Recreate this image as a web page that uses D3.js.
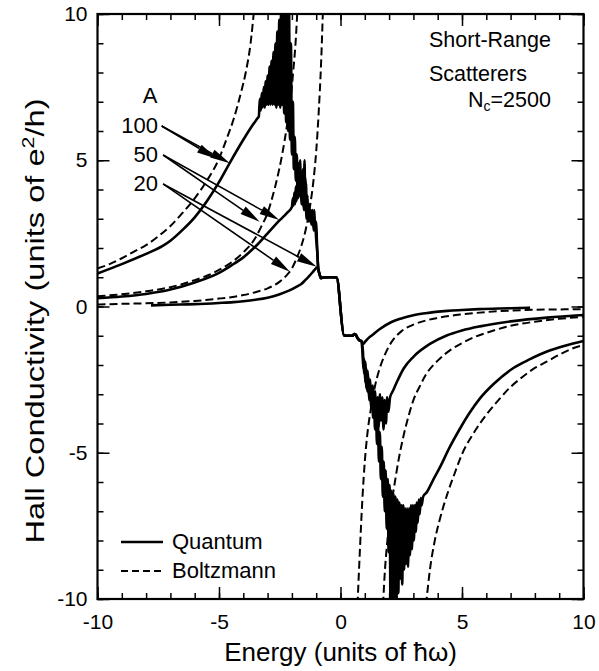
<!DOCTYPE html>
<html>
<head>
<meta charset="utf-8">
<script src="https://cdn.jsdelivr.net/npm/d3@7"></script>
<style>
  body { margin: 0; background: #fff; }
  text { font-family: "Liberation Sans", Arial, Helvetica, sans-serif; fill: #000; }
</style>
</head>
<body>
<div id="chart"></div>
<script>
"use strict";
// Boltzmann curves (dashed), energy vs Hall conductivity, one array per branch
const b20Left = [[-10,0.07],[-9,0.09],[-8,0.11],[-7,0.14],[-6,0.19],[-5,0.27],[-4.5,0.32],[-4,0.39],[-3.5,0.49],[-3,0.62],[-2.5,0.85],[-2.2,1.08],[-2,1.3],[-1.8,1.66],[-1.6,2.1],[-1.4,2.75],[-1.25,3.45],[-1.1,4.4],[-1,5.3],[-0.9,6.6],[-0.8,8.3],[-0.72,10.2]];
const b20Right = [[0.7,-10.2],[0.8,-8.3],[0.9,-6.6],[1,-5.3],[1.1,-4.4],[1.25,-3.5],[1.4,-2.8],[1.6,-2.15],[1.8,-1.7],[2,-1.35],[2.2,-1.1],[2.5,-0.85],[3,-0.62],[3.5,-0.48],[4,-0.39],[4.5,-0.32],[5,-0.27],[6,-0.19],[7,-0.14],[8,-0.11],[9,-0.1],[10,-0.09]];
const b50Left = [[-10,0.35],[-9,0.42],[-8,0.52],[-7,0.66],[-6,0.9],[-5.5,1.05],[-5,1.25],[-4.5,1.5],[-4,1.85],[-3.5,2.35],[-3.25,2.75],[-3,3.2],[-2.8,3.75],[-2.6,4.4],[-2.4,5.2],[-2.2,6.2],[-2.05,7.1],[-1.95,8],[-1.85,9],[-1.77,10.2]];
const b50Right = [[1.75,-10.2],[1.83,-9],[1.93,-8],[2.03,-7.1],[2.2,-6.2],[2.4,-5.2],[2.6,-4.4],[2.8,-3.75],[3,-3.2],[3.25,-2.75],[3.5,-2.35],[4,-1.85],[4.5,-1.5],[5,-1.25],[5.5,-1.05],[6,-0.9],[7,-0.66],[8,-0.52],[9,-0.42],[10,-0.35]];
const b100Left = [[-10,1.3],[-9.5,1.45],[-9,1.65],[-8.5,1.88],[-8,2.1],[-7.5,2.4],[-7,2.75],[-6.5,3.2],[-6,3.7],[-5.5,4.3],[-5,5.05],[-4.7,5.7],[-4.4,6.4],[-4.1,7.3],[-3.9,8],[-3.7,9],[-3.55,10.2]];
const b100Right = [[3.52,-10.2],[3.68,-9],[3.88,-8],[4.08,-7.3],[4.4,-6.4],[4.7,-5.7],[5,-5.05],[5.5,-4.3],[6,-3.7],[6.5,-3.2],[7,-2.75],[7.5,-2.4],[8,-2.1],[8.5,-1.88],[9,-1.65],[9.5,-1.45],[10,-1.32]];

// Quantum curves (solid)
const q20 = [[-7.8,0.04],[-7,0.06],[-6,0.08],[-5,0.12],[-4.4,0.15],[-4,0.18],[-3.5,0.23],[-3,0.3],[-2.5,0.42],[-2.1,0.55],[-1.8,0.68],[-1.6,0.78],[-1.45,0.9],[-1.3,1.03],[-1.15,1.17],[-1.05,1.27],[-0.97,1.33],[-0.92,1.28],
  [-0.86,1.1],[-0.8,0.97],[-0.72,0.99],[-0.5,1],[-0.3,1],[-0.16,0.99],[0.14,-0.98],[0.3,-1],[0.5,-1],[0.56,-0.94],[0.62,-0.96],[0.7,-1.08],[0.78,-1.16],[0.86,-1.18],
  [0.94,-1.28],[1,-1.22],[1.1,-1.12],[1.3,-0.98],[1.62,-0.77],[2.1,-0.53],[2.5,-0.41],[3,-0.3],[3.5,-0.23],[4.4,-0.15],[5,-0.12],[5.7,-0.09],[7,-0.06],[7.8,-0.04]];
const q50 = [[-10,0.28],[-9,0.34],[-8,0.43],[-7,0.58],[-6,0.82],[-5,1.15],[-4.5,1.4],[-4,1.68],[-3.5,2.05],[-3,2.5],[-2.5,2.95],[-2.2,3.2],[-2,3.4],
  [-1.96,3.7],[-1.93,3.45],[-1.9,3.9],[-1.87,3.5],[-1.84,4.1],[-1.81,3.6],[-1.78,4.3],[-1.75,3.7],[-1.72,4.6],[-1.69,3.8],[-1.66,5],[-1.63,3.7],[-1.6,4.4],[-1.57,3.5],[-1.54,4.7],[-1.51,3.4],[-1.48,5],[-1.45,3.3],[-1.42,4.2],[-1.39,3.2],[-1.36,3.8],[-1.33,3],[-1.3,3.5],[-1.27,3.2],[-1.24,3.3],[-1.2,3],[-1.16,3.3],[-1.12,2.8],[-1.08,3.3],[-1.04,2.6],[-1,2.9],[-0.97,2.2],[-0.94,1.6],[-0.91,1.25],
  [-0.86,1.1],[-0.8,0.97],[-0.72,0.99],[-0.5,1],[-0.3,1],[-0.16,0.99],[0.14,-0.98],[0.3,-1],[0.5,-1],[0.56,-0.94],[0.62,-0.96],[0.7,-1.08],[0.78,-1.16],[0.86,-1.18],
  [0.92,-1.5],[0.97,-2.3],[1.02,-1.9],[1.07,-2.8],[1.12,-2.2],[1.17,-3],[1.22,-2.5],[1.27,-3.3],[1.32,-2.7],[1.37,-3.6],[1.42,-2.9],[1.47,-3.9],[1.52,-3.1],[1.57,-4.1],[1.62,-3],[1.67,-3.9],[1.72,-3.1],[1.77,-4.2],[1.82,-3.2],[1.87,-4],[1.92,-3.1],[1.97,-3.6],[2.04,-3.1],
  [2.15,-2.9],[2.31,-2.6],[2.6,-2.12],[3,-1.72],[3.68,-1.28],[4.37,-0.99],[5,-0.82],[5.74,-0.68],[7.1,-0.5],[8.5,-0.38],[10,-0.29]];
const q100 = [[-10,1.13],[-9,1.45],[-8,1.8],[-7.3,2.08],[-7,2.25],[-6.5,2.62],[-6,3.05],[-5.5,3.6],[-5,4.25],[-4.55,4.92],[-4,5.7],[-3.6,6.22],[-3.4,6.45],
  [-3.36,6.5],[-3.32,7.1],[-3.28,6.7],[-3.24,7.3],[-3.2,6.8],[-3.16,7.5],[-3.12,6.8],[-3.08,7.7],[-3.04,6.9],[-3,7.9],[-2.96,6.9],[-2.92,8.2],[-2.88,6.9],[-2.84,8.4],[-2.8,6.9],[-2.76,8.7],[-2.72,6.9],[-2.68,9],[-2.64,6.8],[-2.6,9.4],[-2.56,6.9],[-2.52,9.8],[-2.48,6.8],[-2.44,10.5],[-2.4,6.9],[-2.36,10.5],[-2.32,6.6],[-2.28,10.5],[-2.24,6.3],[-2.2,10.5],[-2.16,6],[-2.12,10.5],[-2.08,5.7],[-2.04,9],[-2,5.2],[-1.96,7],[-1.92,4.7],[-1.88,5.8],
  [-1.84,4.3],[-1.8,5.2],[-1.76,4],[-1.72,4.9],[-1.68,3.8],[-1.64,4.6],[-1.6,3.5],[-1.55,4.2],[-1.5,3.3],[-1.45,4.4],[-1.4,3],[-1.35,3.6],[-1.3,2.9],[-1.25,3.3],[-1.2,2.8],[-1.15,3.1],[-1.1,2.6],[-1.05,2.9],[-1,2.3],[-0.96,1.9],[-0.92,1.35],
  [-0.86,1.1],[-0.8,0.97],[-0.72,0.99],[-0.5,1],[-0.3,1],[-0.16,0.99],[0.14,-0.98],[0.3,-1],[0.5,-1],[0.56,-0.94],[0.62,-0.96],[0.7,-1.08],[0.78,-1.16],[0.86,-1.18],
  [0.9,-1.5],[0.94,-2.1],[0.98,-1.8],[1.02,-2.6],[1.06,-2.1],[1.1,-2.9],[1.14,-2.4],[1.18,-3.2],[1.22,-2.7],[1.26,-3.5],[1.3,-2.9],[1.34,-3.8],[1.38,-3.2],[1.42,-4.2],[1.46,-3.5],[1.5,-4.7],[1.54,-3.8],[1.58,-5.3],[1.62,-4.3],[1.66,-5.9],[1.7,-4.8],[1.74,-6.5],[1.78,-5.3],[1.82,-7],[1.86,-5.6],[1.9,-7.6],[1.94,-5.9],[1.98,-8.4],[2.02,-6.1],[2.06,-10.5],[2.1,-6.3],[2.14,-10.5],[2.18,-6.4],[2.22,-10.5],[2.26,-6.5],[2.3,-10.5],[2.34,-6.6],[2.38,-9.8],[2.42,-6.7],[2.46,-9.3],[2.5,-6.8],[2.54,-9.5],[2.58,-6.8],[2.62,-9],[2.66,-6.9],[2.7,-8.8],[2.74,-6.9],[2.78,-8.9],[2.82,-6.9],[2.86,-8.5],[2.9,-6.8],[2.94,-8.3],[2.98,-6.8],[3.02,-8],[3.06,-6.8],[3.1,-7.7],[3.14,-6.7],[3.18,-7.4],[3.22,-6.6],[3.26,-7.1],[3.3,-6.55],[3.34,-6.8],
  [3.4,-6.5],[3.55,-6.35],[3.8,-5.95],[4.09,-5.5],[4.5,-4.8],[4.92,-4.17],[5.3,-3.65],[5.74,-3.14],[6.3,-2.65],[7.1,-2.11],[7.8,-1.8],[8.5,-1.54],[9.2,-1.35],[10,-1.18]];

// arrow annotations: label, start point, two tips (data units)
const arrowLabels = ["100", "50", "20"];
const arrowStarts = [[-7.36,6.17],[-7.3,5.18],[-7.3,4.19]];
const arrowTips = [[[-5.1,5.05],[-4.55,4.9]], [[-3.33,2.9],[-2.52,2.96]], [[-2.08,1.19],[-0.98,1.36]]];

const xTicks = [-10, -5, 0, 5, 10];
const yTicks = [-10, -5, 0, 5, 10];

const width = 599;
const height = 671;
const mLeft = 97.5, mRight = 583.5, mTop = 14, mBottom = 599;

const x = d3.scaleLinear().domain([-10, 10]).range([mLeft, mRight]);
const y = d3.scaleLinear().domain([-10, 10]).range([mBottom, mTop]);

const svg = d3.select('#chart').append('svg')
    .attr('width', width)
    .attr('height', height);

svg.append('clipPath').attr('id', 'plot-clip')
  .append('rect')
    .attr('x', mLeft).attr('y', mTop)
    .attr('width', mRight - mLeft).attr('height', mBottom - mTop);

// ticks, inward on all four sides
const minor = d3.range(-10, 11, 1);
const addAxis = (axis, tx, ty) => {
    const g = svg.append('g').attr('transform', `translate(${tx},${ty})`).call(axis);
    g.select('.domain').remove();
    g.selectAll('line').attr('stroke', '#000').attr('stroke-width', 1.5);
    return g;
};
addAxis(d3.axisBottom(x).tickValues(minor).tickSize(-6).tickFormat(''), 0, mBottom);
addAxis(d3.axisTop(x).tickValues(minor).tickSize(-6).tickFormat(''), 0, mTop);
addAxis(d3.axisLeft(y).tickValues(minor).tickSize(-6).tickFormat(''), mLeft, 0);
addAxis(d3.axisRight(y).tickValues(minor).tickSize(-6).tickFormat(''), mRight, 0);
addAxis(d3.axisTop(x).tickValues(xTicks).tickSize(-12).tickFormat(''), 0, mTop);
addAxis(d3.axisRight(y).tickValues(yTicks).tickSize(-12).tickFormat(''), mRight, 0);
addAxis(d3.axisBottom(x).tickValues(xTicks).tickSize(-12).tickPadding(15).tickFormat(d => String(d)), 0, mBottom);
addAxis(d3.axisLeft(y).tickValues(yTicks).tickSize(-12).tickPadding(10).tickFormat(d => String(d)), mLeft, 0);
svg.selectAll('.tick text')
    .attr('font-family', '"Liberation Sans", Arial, Helvetica, sans-serif')
    .attr('font-size', 21)
    .attr('fill', '#000');

// curves
const line = d3.line().curve(d3.curveMonotoneX).x(d => x(d[0])).y(d => y(d[1]));
const plot = svg.append('g').attr('clip-path', 'url(#plot-clip)');

[b20Left, b20Right, b50Left, b50Right, b100Left, b100Right].forEach(d => {
    plot.append('path')
        .attr('d', line(d))
        .attr('fill', 'none')
        .attr('stroke', '#000')
        .attr('stroke-width', 2)
        .attr('stroke-dasharray', '8,4');
});
[q20, q50, q100].forEach(d => {
    plot.append('path')
        .attr('d', line(d))
        .attr('fill', 'none')
        .attr('stroke', '#000')
        .attr('stroke-width', 2.6)
        .attr('stroke-linejoin', 'round');
});

// frame
svg.append('rect')
    .attr('x', mLeft).attr('y', mTop)
    .attr('width', mRight - mLeft).attr('height', mBottom - mTop)
    .attr('fill', 'none').attr('stroke', '#000').attr('stroke-width', 2.2);

// arrows with filled heads
arrowStarts.forEach((s, i) => {
    const x0 = x(s[0]), y0 = y(s[1]);
    arrowTips[i].forEach(t => {
        const x1 = x(t[0]), y1 = y(t[1]);
        const a = Math.atan2(y1 - y0, x1 - x0);
        const len = 20, w = 4.5;
        const bx = x1 - len * Math.cos(a), by = y1 - len * Math.sin(a);
        svg.append('line')
            .attr('x1', x0).attr('y1', y0).attr('x2', bx).attr('y2', by)
            .attr('stroke', '#000').attr('stroke-width', 1.6);
        svg.append('path')
            .attr('d', `M${x1},${y1}L${bx - w * Math.sin(a)},${by + w * Math.cos(a)}L${bx + w * Math.sin(a)},${by - w * Math.cos(a)}Z`)
            .attr('fill', '#000');
    });
    svg.append('text')
        .attr('x', 158).attr('y', y0 + 7)
        .attr('text-anchor', 'end')
        .attr('font-size', 22)
        .text(arrowLabels[i]);
});
svg.append('text').attr('x', 150).attr('y', 103).attr('text-anchor', 'middle').attr('font-size', 22).text('A');

// top-right note
svg.append('text').attr('x', 429).attr('y', 47).attr('font-size', 21.5).text('Short-Range');
svg.append('text').attr('x', 429).attr('y', 81).attr('font-size', 21.5).text('Scatterers');
const nc = svg.append('text').attr('x', 468).attr('y', 107).attr('font-size', 21.5);
nc.append('tspan').text('N');
nc.append('tspan').attr('font-size', 14).attr('dy', 4).text('c');
nc.append('tspan').attr('dy', -4).text('=2500');

// legend
const legend = [['Quantum', null, 542], ['Boltzmann', '7,4', 571]];
legend.forEach(([label, dash, ly]) => {
    svg.append('line')
        .attr('x1', 121).attr('x2', 163).attr('y1', ly).attr('y2', ly)
        .attr('stroke', '#000').attr('stroke-width', dash ? 2 : 2.6)
        .attr('stroke-dasharray', dash);
    svg.append('text').attr('x', 172).attr('y', ly + 7).attr('font-size', 22).text(label);
});

// axis titles
svg.append('text')
    .attr('x', (mLeft + mRight) / 2).attr('y', 661)
    .attr('text-anchor', 'middle')
    .attr('font-size', 26)
    .text('Energy (units of ħω)');
const yt = svg.append('text')
    .attr('transform', `translate(44,321) rotate(-90)`)
    .attr('text-anchor', 'middle')
    .attr('font-size', 26)
    .attr('textLength', 445)
    .attr('lengthAdjust', 'spacingAndGlyphs');
yt.append('tspan').text('Hall Conductivity (units of e');
yt.append('tspan').attr('font-size', 17).attr('dy', -10).text('2');
yt.append('tspan').attr('dy', 10).text('/h)');
</script>
</body>
</html>
